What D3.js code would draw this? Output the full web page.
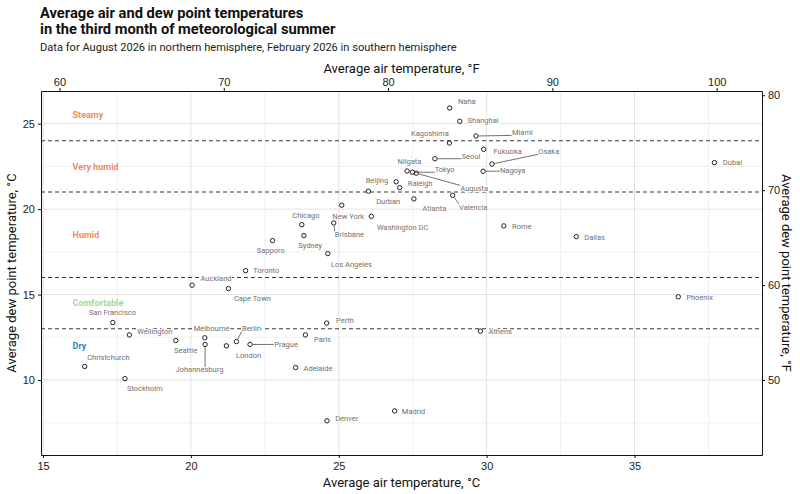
<!DOCTYPE html>
<html>
<head>
    <script src="https://d3js.org/d3.v7.min.js"></script>
    <style>
        body { margin: 0; background: #fff; }
        svg { font-family: Roboto, sans-serif; }
        .grid-major { stroke: #e2e2e2; stroke-width: 1; }
        .grid-minor { stroke: #f0f0f0; stroke-width: 1; }
        .zone-line { stroke: #3a3a3a; stroke-width: 1.1; stroke-dasharray: 4,3; }
        .axis path, .axis line { stroke: #111; }
        .axis text { font-size: 11px; fill: #222; }
        .city { fill: none; stroke: #222; stroke-width: 1; }
        .city-halo { font-size: 7.5px; fill: #fff; stroke: #fff; stroke-width: 2px; stroke-linejoin: round; }
        .city-label { font-size: 7.5px; fill: #707070; }
        .seg { stroke: #333; stroke-width: 0.7; }
        .zone-label { font-size: 9px; font-weight: bold; }
    </style>
</head>
<body>
    <svg width="800" height="494"></svg>
    <script>
        // city data, °C
        const cities = ['Naha', 'Shanghai', 'Miami', 'Kagoshima', 'Fukuoka', 'Seoul', 'Osaka', 'Niigata',
            'Tokyo', 'Augusta', 'Nagoya', 'Beijing', 'Raleigh', 'Durban', 'Atlanta', 'Valencia', 'Dubai',
            'Chicago', 'New York', 'Washington DC', 'Brisbane', 'Rome', 'Dallas', 'Sydney', 'Sapporo',
            'Los Angeles', 'Toronto', 'Auckland', 'Cape Town', 'Phoenix', 'San Francisco', 'Wellington',
            'Seattle', 'Melbourne', 'Johannesburg', 'Berlin', 'London', 'Prague', 'Perth', 'Paris', 'Athens',
            'Christchurch', 'Stockholm', 'Adelaide', 'Denver', 'Madrid'];
        const airTemp = [28.75, 29.09, 29.64, 28.74, 29.9, 28.25, 30.18, 27.31,
            27.49, 27.62, 29.88, 26.94, 27.06, 26.0, 27.54, 28.85, 37.7,
            23.75, 25.1, 26.1, 24.83, 30.58, 33.03, 23.82, 22.76,
            24.63, 21.85, 20.04, 21.27, 36.48, 17.36, 17.92,
            19.49, 20.47, 20.48, 21.54, 21.2, 22.0, 24.59, 23.87, 29.79,
            16.41, 17.77, 23.54, 24.6, 26.89];
        const dewPoint = [25.92, 25.14, 24.28, 23.87, 23.5, 22.95, 22.64, 22.23,
            22.16, 22.1, 22.22, 21.6, 21.26, 21.05, 20.6, 20.81, 22.72,
            19.09, 20.23, 19.58, 19.19, 19.02, 18.39, 18.45, 18.16,
            17.4, 16.4, 15.55, 15.35, 14.87, 13.36, 12.64,
            12.31, 12.47, 12.08, 12.25, 12.0, 12.08, 13.33, 12.64, 12.86,
            10.79, 10.08, 10.73, 7.61, 8.19];

        // where each name label sits (label centre, in °C)
        const labelAir = [29.33, 29.88, 31.21, 28.08, 30.71, 29.47, 32.1, 27.39,
            28.58, 29.58, 30.88, 26.29, 27.75, 26.67, 28.23, 29.55, 38.31,
            23.89, 25.32, 27.16, 25.36, 31.19, 33.65, 24.03, 22.7,
            25.43, 22.55, 20.85, 22.08, 37.2, 17.35, 18.78,
            19.82, 20.7, 20.29, 22.05, 21.95, 23.22, 25.21, 24.45, 30.46,
            17.21, 18.44, 24.3, 25.27, 27.53];
        const labelDew = [26.31, 25.22, 24.5, 24.44, 23.4, 23.11, 23.39, 22.82,
            22.33, 21.22, 22.29, 21.71, 21.49, 20.46, 20.07, 20.11, 22.72,
            19.66, 19.6, 18.96, 18.51, 19.0, 18.37, 17.87, 17.56,
            16.75, 16.39, 15.96, 14.77, 14.85, 13.97, 12.86,
            11.71, 13.05, 10.6, 13.05, 11.47, 12.08, 13.5, 12.39, 12.84,
            11.34, 9.53, 10.7, 7.73, 8.19];
        const segmentCities = ['Miami', 'Seoul', 'Osaka', 'Tokyo', 'Nagoya', 'Augusta', 'Valencia',
            'Brisbane', 'Johannesburg', 'Berlin', 'Prague'];

        // dew point comfort zones, °C
        const zoneBreaks = [13, 16, 21, 24];
        const zoneNames = ['Dry', 'Comfortable', 'Humid', 'Very humid', 'Steamy'];
        const zoneLabelDew = [12, 14.5, 18.5, 22.5, 25.5];
        const zoneLabelAir = 16;

        const xTicksC = [15, 20, 25, 30, 35];
        const yTicksC = [10, 15, 20, 25];
        const xTicksF = [60, 70, 80, 90, 100];
        const yTicksF = [50, 60, 70, 80];

        const zoneColor = {'Dry': '#2f86bd', 'Comfortable': '#a3d99d', 'Humid': '#f58b5c',
            'Very humid': '#f58b5c', 'Steamy': '#f58b5c'};

        const toF = c => c * 9 / 5 + 32;
        const pL = 41, pR = 762, pT = 91, pB = 455;

        const svg = d3.select('svg');

        const x = d3.scaleLinear().domain([14.932, 39.31]).range([pL, pR]);
        const y = d3.scaleLinear().domain([5.61, 26.914]).range([pB, pT]);
        const xF = d3.scaleLinear().domain(x.domain().map(toF)).range([pL, pR]);
        const yF = d3.scaleLinear().domain(y.domain().map(toF)).range([pB, pT]);

        // grid
        const grid = svg.append('g');
        const minorX = d3.range(17.5, 40, 5);
        const minorY = d3.range(7.5, 27, 5);
        grid.selectAll('.gmx').data(minorX).enter().append('line')
            .attr('class', 'grid-minor')
            .attr('x1', d => x(d)).attr('x2', d => x(d)).attr('y1', pT).attr('y2', pB);
        grid.selectAll('.gmy').data(minorY).enter().append('line')
            .attr('class', 'grid-minor')
            .attr('x1', pL).attr('x2', pR).attr('y1', d => y(d)).attr('y2', d => y(d));
        grid.selectAll('.gx').data(xTicksC).enter().append('line')
            .attr('class', 'grid-major')
            .attr('x1', d => x(d)).attr('x2', d => x(d)).attr('y1', pT).attr('y2', pB);
        grid.selectAll('.gy').data(yTicksC).enter().append('line')
            .attr('class', 'grid-major')
            .attr('x1', pL).attr('x2', pR).attr('y1', d => y(d)).attr('y2', d => y(d));

        // zone boundaries
        svg.append('g').selectAll('line').data(zoneBreaks).enter().append('line')
            .attr('class', 'zone-line')
            .attr('x1', pL).attr('x2', pR)
            .attr('y1', d => y(d)).attr('y2', d => y(d));

        svg.append('g').selectAll('text').data(zoneNames).enter().append('text')
            .attr('class', 'zone-label')
            .attr('x', x(zoneLabelAir))
            .attr('y', (d, i) => y(zoneLabelDew[i]))
            .attr('dy', '0.35em')
            .attr('fill', d => zoneColor[d])
            .text(d => d);

        // axes
        svg.append('g').attr('class', 'axis')
            .attr('transform', `translate(0,${pB})`)
            .call(d3.axisBottom(x).tickValues(xTicksC).tickSize(3).tickPadding(4).tickSizeOuter(0));
        svg.append('g').attr('class', 'axis')
            .attr('transform', `translate(${pL},0)`)
            .call(d3.axisLeft(y).tickValues(yTicksC).tickSize(3).tickPadding(3).tickSizeOuter(0));
        svg.append('g').attr('class', 'axis')
            .attr('transform', `translate(0,${pT})`)
            .call(d3.axisTop(xF).tickValues(xTicksF).tickSize(3).tickPadding(2).tickSizeOuter(0));
        svg.append('g').attr('class', 'axis')
            .attr('transform', `translate(${pR},0)`)
            .call(d3.axisRight(yF).tickValues(yTicksF).tickSize(3).tickPadding(3).tickSizeOuter(0));

        // city labels
        const data = cities.map((c, i) => ({
            name: c, air: airTemp[i], dew: dewPoint[i], lx: labelAir[i], ly: labelDew[i]
        }));

        const segG = svg.append('g');
        svg.append('g').selectAll('text').data(data).enter().append('text')
            .attr('class', 'city-halo')
            .attr('x', d => x(d.lx))
            .attr('y', d => y(d.ly))
            .attr('dy', '0.35em')
            .attr('text-anchor', 'middle')
            .text(d => d.name);
        const labels = svg.append('g').selectAll('text').data(data).enter().append('text')
            .attr('class', 'city-label')
            .attr('x', d => x(d.lx))
            .attr('y', d => y(d.ly))
            .attr('dy', '0.35em')
            .attr('text-anchor', 'middle')
            .text(d => d.name);

        labels.each(function(d) {
            if (!segmentCities.includes(d.name)) return;
            const b = this.getBBox();
            const px = x(d.air), py = y(d.dew);
            const qx = Math.max(b.x, Math.min(px, b.x + b.width));
            const qy = Math.max(b.y + 1.5, Math.min(py, b.y + b.height - 1.5));
            const len = Math.hypot(qx - px, qy - py);
            if (len < 3) return;
            const r = 2.6 / len;
            segG.append('line').attr('class', 'seg')
                .attr('x1', px + (qx - px) * r).attr('y1', py + (qy - py) * r)
                .attr('x2', qx).attr('y2', qy);
        });

        svg.append('g').selectAll('circle').data(data).enter().append('circle')
            .attr('class', 'city')
            .attr('cx', d => x(d.air))
            .attr('cy', d => y(d.dew))
            .attr('r', 2.2);

        // titles
        svg.append('text').attr('x', 40).attr('y', 17.5)
            .attr('font-weight', 'bold').attr('font-size', 14.7).attr('fill', '#111')
            .text('Average air and dew point temperatures');
        svg.append('text').attr('x', 40).attr('y', 34)
            .attr('font-weight', 'bold').attr('font-size', 14.7).attr('fill', '#111')
            .text('in the third month of meteorological summer');
        svg.append('text').attr('x', 40).attr('y', 51).attr('font-size', 11.1).attr('fill', '#222')
            .text('Data for August 2026 in northern hemisphere, February 2026 in southern hemisphere');

        svg.append('text').attr('x', (pL + pR) / 2).attr('y', 73)
            .attr('text-anchor', 'middle').attr('font-size', 13).attr('fill', '#111')
            .text('Average air temperature, °F');
        svg.append('text').attr('x', (pL + pR) / 2).attr('y', 487)
            .attr('text-anchor', 'middle').attr('font-size', 13).attr('fill', '#111')
            .text('Average air temperature, °C');
        svg.append('text')
            .attr('transform', `translate(16,${(pT + pB) / 2}) rotate(-90)`)
            .attr('text-anchor', 'middle').attr('font-size', 13).attr('fill', '#111')
            .text('Average dew point temperature, °C');
        svg.append('text')
            .attr('transform', `translate(782,${(pT + pB) / 2}) rotate(90)`)
            .attr('text-anchor', 'middle').attr('font-size', 13).attr('fill', '#111')
            .text('Average dew point temperature, °F');
    </script>
</body>
</html>
